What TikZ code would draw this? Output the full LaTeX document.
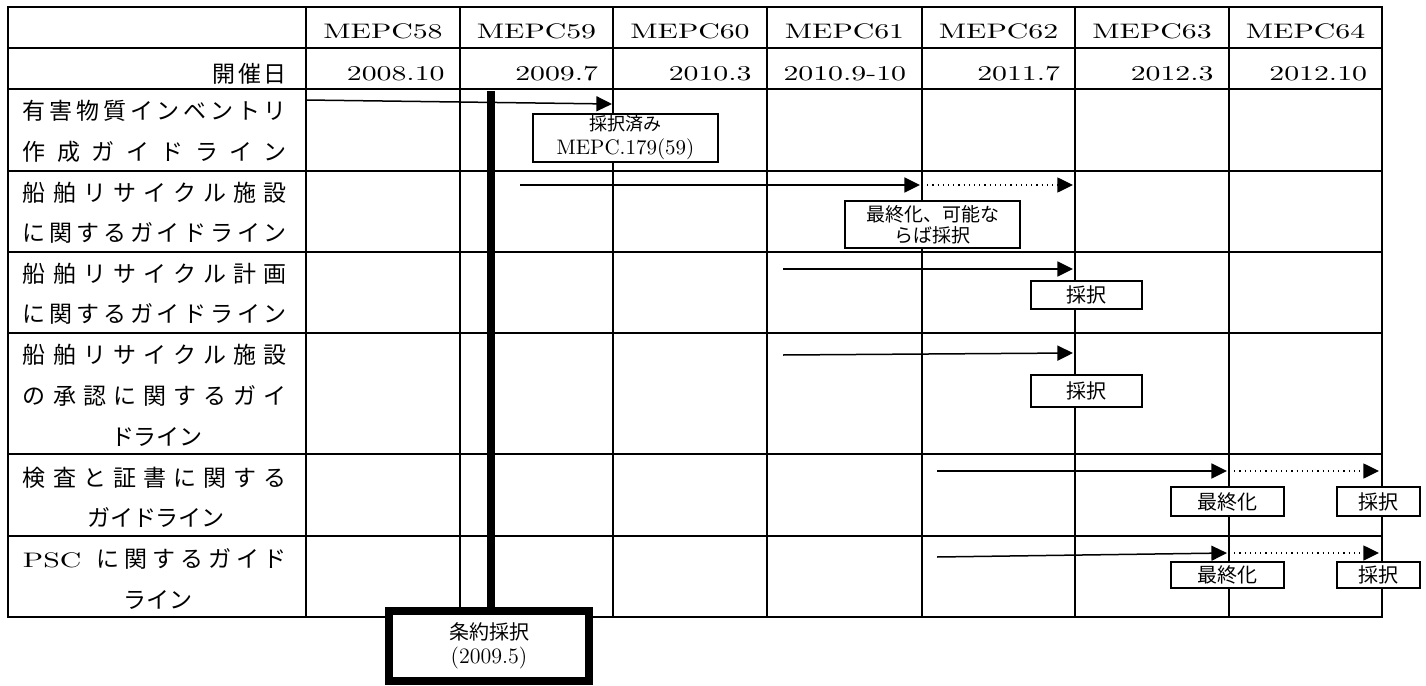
\documentclass[tikz,border=0pt]{standalone}
\usepackage{fontspec}
\newfontfamily\jp{Noto Sans CJK JP}
\newfontfamily\wide{lmroman10-regular}[Extension=.otf,FakeStretch=1.42]
\usetikzlibrary{arrows.meta}
\def\spr#1{\sprA#1\relax}
\def\sprA#1{#1\sprB}
\def\sprB#1{\ifx#1\relax\else\hfill#1\expandafter\sprB\fi}
\begin{document}
\begin{tikzpicture}[x=0.5pt,y=-0.5pt,
  gridline/.style={line width=1.1pt},
  lab/.style={font=\jp\fontsize{11.5}{13}\selectfont, inner sep=0pt},
  hd/.style={font=\wide\fontsize{10.5}{12}\selectfont, inner sep=0pt},
  flow/.style={line width=0.75pt, -{Triangle[length=7.8pt,width=7.5pt]}},
  flowdot/.style={flow, line width=0.6pt, dotted},
  note/.style={draw, fill=white, line width=0.8pt, inner sep=0pt, align=center},
  thick box/.style={draw, fill=white, line width=4pt, inner sep=0pt, align=center}]
\useasboundingbox (0,0) rectangle (1426,686);
% table grid
\draw[gridline] (8,7) rectangle (1382,617);
\foreach \x in {306,460,613,767,922,1075,1229} \draw[gridline] (\x,7) -- (\x,617);
\foreach \y in {48,89,171,252,333,454,536} \draw[gridline] (8,\y) -- (1382,\y);
% header
\foreach \n/\x/\d in {58/383/2008.10,59/536.5/2009.7,60/690/2010.3,61/844.5/2010.9-10,62/998.5/2011.7,63/1152/2012.3,64/1305.5/2012.10}{
  \node[hd] (m\n) at (\x,31) {MEPC\n};
  \node[hd,anchor=east] (d\n) at (\x+62,74) {\d};
}
\node[lab,anchor=east] (kaisai) at (287,74) {\makebox[37pt]{\spr{開催日}}};
% row labels
\node[lab] (l1a) at (155,111) {\makebox[132pt]{\spr{有害物質インベントリ}}};
\node[lab] (l1b) at (155,152) {\makebox[132pt]{\spr{作成ガイドライン}}};
\node[lab] (l2a) at (155,193) {\makebox[132pt]{\spr{船舶リサイクル施設}}};
\node[lab] (l2b) at (155,233) {\makebox[132pt]{\spr{に関するガイドライン}}};
\node[lab] (l3a) at (155,274) {\makebox[132pt]{\spr{船舶リサイクル計画}}};
\node[lab] (l3b) at (155,314) {\makebox[132pt]{\spr{に関するガイドライン}}};
\node[lab] (l4a) at (155,355) {\makebox[132pt]{\spr{船舶リサイクル施設}}};
\node[lab] (l4b) at (155,396) {\makebox[132pt]{\spr{の承認に関するガイ}}};
\node[lab] (l4c) at (157,437) {ドライン};
\node[lab] (l5a) at (155,478) {\makebox[132pt]{\spr{検査と証書に関する}}};
\node[lab] (l5b) at (156,518) {ガイドライン};
\node[lab] (l6a) at (155,559) {\makebox[132pt]{{\wide\fontsize{10.5}{12}\selectfont PSC}\hspace{5pt}\hfill\spr{に関するガイド}}};
\node[lab] (l6b) at (158,600) {ライン};
% treaty adoption
\node[thick box, minimum width=100pt, minimum height=35pt, font=\fontsize{10}{12}\selectfont] (treaty) at (489,646)
  {{\jp 条約採択}\\{\fontsize{11}{12}\selectfont (2009.5)}};
\coordinate (tl) at (491,91);
\draw[line width=4pt] (tl) -- (tl |- treaty.north);
% arrows
\coordinate (a1s) at (306,100); \coordinate (a1e) at (612,104);
\draw[flow] (a1s) -- (a1e);
\coordinate (a2s) at (520,185); \coordinate (a2e) at (920,185); \coordinate (a2d) at (922,185); \coordinate (a2f) at (1073,185);
\draw[flow] (a2s) -- (a2e);
\draw[flowdot] (a2d) -- (a2f);
\coordinate (a3s) at (783,269); \coordinate (a3e) at (1073,269);
\draw[flow] (a3s) -- (a3e);
\coordinate (a4s) at (783,355); \coordinate (a4e) at (1073,353);
\draw[flow] (a4s) -- (a4e);
\coordinate (a5s) at (937,471); \coordinate (a5e) at (1227,471); \coordinate (a5d) at (1229,471); \coordinate (a5f) at (1379,471);
\draw[flow] (a5s) -- (a5e);
\draw[flowdot] (a5d) -- (a5f);
\coordinate (a6s) at (937,557); \coordinate (a6e) at (1227,553); \coordinate (a6d) at (1229,553); \coordinate (a6f) at (1379,553);
\draw[flow] (a6s) -- (a6e);
\draw[flowdot] (a6d) -- (a6f);
% notes
\node[note, minimum width=92.5pt, minimum height=24pt] (b1) at (625.5,138)
  {{\jp\fontsize{9}{7.5}\selectfont 採択済み}\\{\fontsize{10.5}{7.5}\selectfont MEPC.179(59)}};
\node[note, minimum width=87.5pt, minimum height=23.5pt, font=\jp\fontsize{9.5}{10.5}\selectfont] (b2) at (932.5,224.5)
  {最終化、可能な\\らば採択};
\node[note, minimum width=55.5pt, minimum height=14pt, font=\jp\fontsize{10}{12}\selectfont] (b3) at (1086.5,295) {採択};
\node[note, minimum width=55.5pt, minimum height=16pt, font=\jp\fontsize{10}{12}\selectfont] (b4) at (1086.5,391) {採択};
\node[note, minimum width=56.5pt, minimum height=14.5pt, font=\jp\fontsize{10}{12}\selectfont] (b5a) at (1227.5,501.5) {最終化};
\node[note, minimum width=41.5pt, minimum height=14.5pt, font=\jp\fontsize{10}{12}\selectfont] (b5b) at (1378.5,501.5) {採択};
\node[note, minimum width=56.5pt, minimum height=13pt, font=\jp\fontsize{10}{12}\selectfont] (b6a) at (1227.5,575) {最終化};
\node[note, minimum width=41.5pt, minimum height=13pt, font=\jp\fontsize{10}{12}\selectfont] (b6b) at (1378.5,575) {採択};
\end{tikzpicture}
\end{document}
